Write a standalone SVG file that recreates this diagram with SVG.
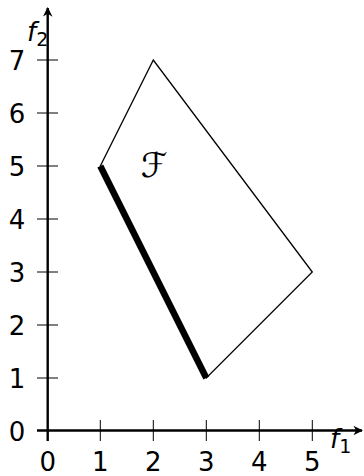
<svg xmlns="http://www.w3.org/2000/svg" width="364" height="476" viewBox="0 0 364 476">
<style>
.ax{stroke:#000;stroke-width:2.4;fill:none}
.tk{stroke:#000;stroke-width:1}
.lb{font-family:"DejaVu Sans","Liberation Sans",sans-serif;font-size:26px;fill:#000}
.it{font-family:"DejaVu Sans","Liberation Sans",sans-serif;font-style:italic;font-size:26px;fill:#000}
.sub{font-size:19px;font-style:normal}
</style>
<defs>
<marker id="ar" viewBox="0 0 10 10" refX="9" refY="5" markerWidth="4" markerHeight="4" orient="auto" markerUnits="strokeWidth">
<path d="M0,0 L10,5 L0,10 L3,5 Z" fill="#000"/>
</marker>
</defs>
<g id="ticks">
<line class="tk" x1="100.3" y1="420" x2="100.3" y2="441"/>
<line class="tk" x1="153.3" y1="420" x2="153.3" y2="441"/>
<line class="tk" x1="206.3" y1="420" x2="206.3" y2="441"/>
<line class="tk" x1="259.3" y1="420" x2="259.3" y2="441"/>
<line class="tk" x1="312.3" y1="420" x2="312.3" y2="441"/>
<line class="tk" x1="37" y1="378" x2="58" y2="378"/>
<line class="tk" x1="37" y1="325" x2="58" y2="325"/>
<line class="tk" x1="37" y1="272" x2="58" y2="272"/>
<line class="tk" x1="37" y1="219" x2="58" y2="219"/>
<line class="tk" x1="37" y1="166" x2="58" y2="166"/>
<line class="tk" x1="37" y1="113" x2="58" y2="113"/>
<line class="tk" x1="37" y1="60" x2="58" y2="60"/>
</g>
<g id="axes">
<line class="ax" x1="37" y1="430.5" x2="362" y2="430.5" marker-end="url(#ar)"/>
<line class="ax" x1="47.7" y1="441" x2="47.7" y2="8" marker-end="url(#ar)"/>
</g>
<g id="region">
<polygon points="100.3,166 153.3,60 312.3,272 206.3,378" fill="none" stroke="#000" stroke-width="1.3" stroke-linejoin="miter"/>
<line x1="100.3" y1="166" x2="206.3" y2="378" stroke="#000" stroke-width="6.5" stroke-linecap="butt"/>
</g>
<g id="labels">
<text class="lb" x="47.7" y="471" text-anchor="middle">0</text>
<text class="lb" x="100.3" y="471" text-anchor="middle">1</text>
<text class="lb" x="153.3" y="471" text-anchor="middle">2</text>
<text class="lb" x="206.3" y="471" text-anchor="middle">3</text>
<text class="lb" x="259.3" y="471" text-anchor="middle">4</text>
<text class="lb" x="312.3" y="471" text-anchor="middle">5</text>
<text class="lb" x="17" y="440.5" text-anchor="middle">0</text>
<text class="lb" x="17" y="387.5" text-anchor="middle">1</text>
<text class="lb" x="17" y="334.5" text-anchor="middle">2</text>
<text class="lb" x="17" y="281.5" text-anchor="middle">3</text>
<text class="lb" x="17" y="228.5" text-anchor="middle">4</text>
<text class="lb" x="17" y="175.5" text-anchor="middle">5</text>
<text class="lb" x="17" y="122.5" text-anchor="middle">6</text>
<text class="lb" x="17" y="69.5" text-anchor="middle">7</text>
<text class="it" x="27" y="41">f<tspan class="sub" dy="5">2</tspan></text>
<text class="it" x="330" y="448">f<tspan class="sub" dy="5">1</tspan></text>
<text x="154" y="177" text-anchor="middle" font-family="'DejaVu Sans','Noto Sans',serif" font-size="34">ℱ</text>
</g>
</svg>
